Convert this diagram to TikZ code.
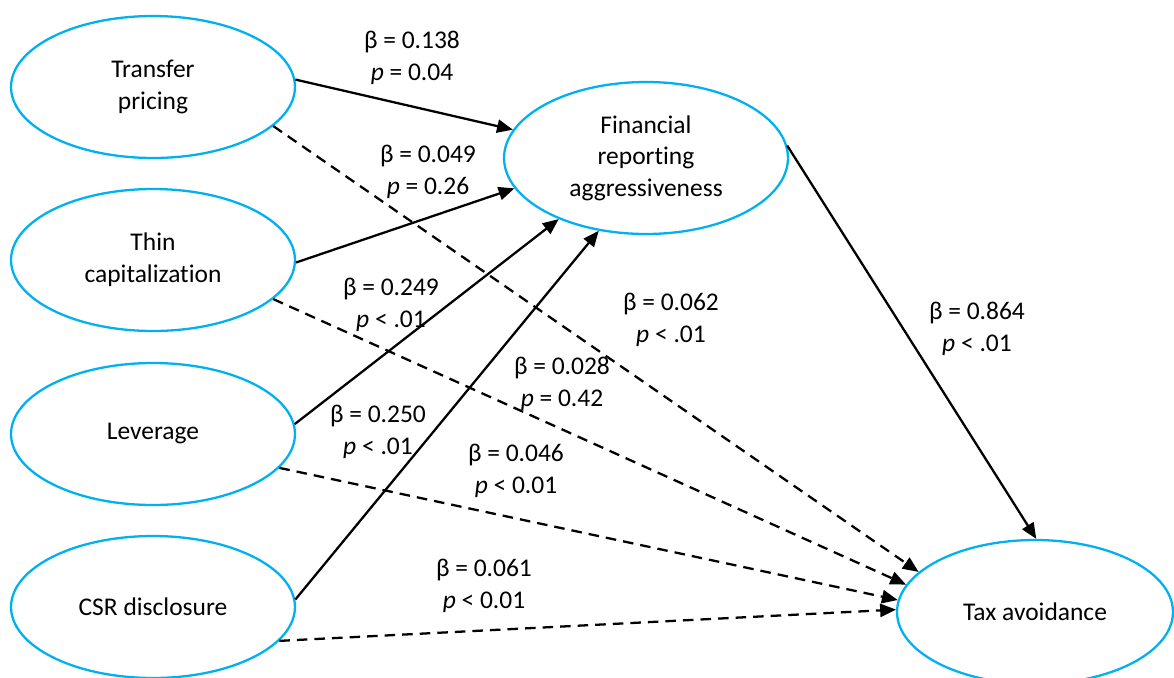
\documentclass[tikz,border=0pt]{standalone}
\usepackage{fontspec}
\setmainfont[Ligatures=NoCommon]{Carlito}
\usetikzlibrary{shapes.geometric, arrows.meta}
\definecolor{skyblue}{HTML}{00B0F0}

\begin{document}
\begin{tikzpicture}[x=0.02cm, y=-0.02cm, font=\fontsize{14.5}{18}\selectfont]
    % Define styles
    \tikzstyle{construct} = [ellipse, draw=skyblue, line width=1.3pt, minimum width=5.68cm, minimum height=2.84cm, inner sep=0pt, align=center]
    \tikzstyle{coef} = [align=center, inner sep=1pt]
    \tikzstyle{path} = [-{Triangle[length=9pt, width=7.5pt]}, line width=1.3pt]
    \tikzstyle{direct} = [path, dash pattern=on 6pt off 4pt]

    \useasboundingbox (0,0) rectangle (1174,677);

    % Nodes
    \node[construct] (tp) at (153,87) {Transfer\\pricing};
    \node[construct] (tc) at (153,260) {Thin\\capitalization};
    \node[construct] (lev) at (153,434) {Leverage};
    \node[construct] (csr) at (153,607) {CSR disclosure};
    \node[construct, minimum height=3.04cm] (fra) at (646,158) {Financial\\reporting\\aggressiveness};
    \node[construct, minimum width=5.52cm, minimum height=2.88cm] (tax) at (1035,612) {Tax avoidance};

    % Connections
    \draw[path] (tp.3) -- (fra.168);
    \draw[path] (tc.-1) -- (fra.193);
    \draw[path] (lev.4) -- (fra.215);
    \draw[path] (csr.3) -- (fra.237);
    \draw[path] (fra.5) -- (tax.89);
    \draw[direct] (tp.-18) -- (tax.161);
    \draw[direct] (tc.-18) -- (tax.168);
    \draw[direct] (lev.-15) -- (tax.175);
    \draw[direct] (csr.-15) -- (tax.179);

    % Coefficients
    \node[coef] (b1) at (412,58) {β = 0.138\\\textit{p} = 0.04};
    \node[coef] (b2) at (428,172) {β = 0.049\\\textit{p} = 0.26};
    \node[coef] (b3) at (391,305) {β = 0.249\\\textit{p} < .01};
    \node[coef] (b4) at (378,432) {β = 0.250\\\textit{p} < .01};
    \node[coef] (b5) at (977,329) {β = 0.864\\\textit{p} < .01};
    \node[coef] (b6) at (671,320) {β = 0.062\\\textit{p} < .01};
    \node[coef] (b7) at (562,384) {β = 0.028\\\textit{p} = 0.42};
    \node[coef] (b8) at (516,471) {β = 0.046\\\textit{p} < 0.01};
    \node[coef] (b9) at (484,586) {β = 0.061\\\textit{p} < 0.01};
\end{tikzpicture}
\end{document}
